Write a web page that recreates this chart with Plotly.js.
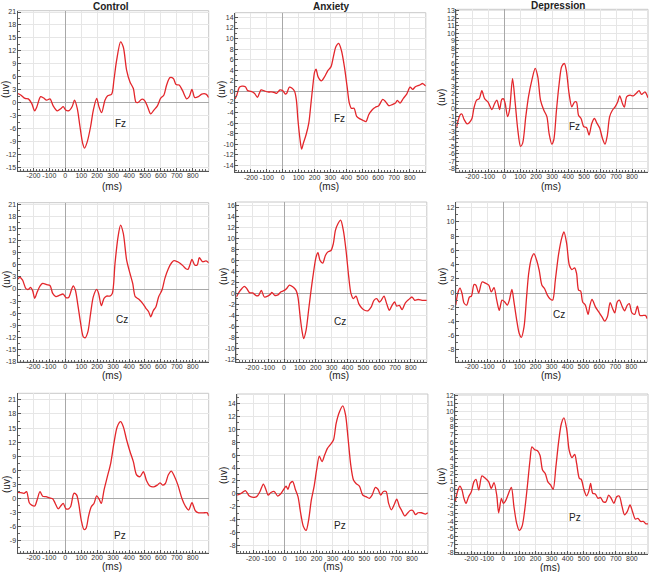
<!DOCTYPE html>
<html><head><meta charset="utf-8">
<script src="https://cdn.plot.ly/plotly-3.0.1.min.js"></script>
<style>html,body{margin:0;padding:0;background:#fff;}#chart{width:649px;height:572px;}</style>
</head><body><div id="chart"></div>
<script>
// ---- Data (time in ms, amplitude in uV) ----
const groups = ['Control', 'Anxiety', 'Depression'];
const electrodes = ['Fz', 'Cz', 'Pz'];
const xTickVals = [-200,-100,0,100,200,300,400,500,600,700,800];
const xTickText = ['-200','-100','0','100','200','300','400','500','600','700','800'];

const controlFzT = [-300,-280,-253,-232,-211,-192,-180,-155,-138,-117,-96,-75,-50,-29,-13,2,23,44,58,75,92,109,121,138,159,176,197,211,228,249,266,291,305,322,347,364,385,406,427,444,458,479,496,515,536,556,577,598,619,636,657,678,695,715,736,762,778,795,812,835,856,883,900];
const controlFzV = [2.15,1.8,1.0,0.9,-0.15,-1.9,-1.1,1.4,1.15,0.6,0.9,-0.8,-1.9,-1.4,-0.9,-1.7,-1.85,-0.8,0.6,-1.3,-5.5,-9.4,-10.5,-9,-5.5,-1.7,1.0,-0.9,-2.3,0.6,1.6,2.0,5.2,9.8,14.1,12.9,7.5,4.8,3.3,0.1,0.1,0.8,0.6,-0.8,-2.6,-1.7,-0.8,1.0,1.8,4.1,5.8,5.6,4.2,4.1,2.8,0.9,1.4,3.1,1.2,1.4,2.0,2.0,1.2];

const anxietyFzT = [-300,-289,-272,-256,-235,-220,-199,-178,-159,-147,-136,-115,-94,-73,-52,-38,-17,0,17,25,42,59,75,86,96,109,119,130,147,164,178,189,201,210,222,243,262,283,304,319,335,352,369,388,405,419,432,449,465,486,507,524,541,562,583,604,629,646,667,688,709,721,738,759,780,801,818,834,860,881,900];
const anxietyFzV = [-1.4,-0.7,0.8,1.0,0.9,0.15,0.0,-0.35,-1.1,-0.35,0.3,0.1,-0.1,-0.1,-0.2,-0.35,0.3,0.15,-0.5,-0.35,0.8,0.6,0,-1.6,-5.4,-9.1,-10.9,-9.8,-8.2,-6.0,-2.2,0.9,3.7,4.2,2.8,2.0,2.7,3.9,4.7,6.6,8.5,9.1,7.8,4.7,0.9,-2.2,-3.2,-3.2,-4.7,-5.2,-5.5,-5.7,-4.4,-3.5,-3.0,-2.7,-1.5,-1.9,-2.7,-2.5,-2.2,-1.7,-2.2,-1.3,-0.5,0.8,0.4,0.9,1.2,1.5,1.0];

const depressionFzT = [-300,-290,-277,-265,-252,-233,-219,-202,-190,-173,-156,-140,-123,-102,-77,-60,-46,-29,-15,-4,6,21,33,52,69,85,102,115,135,152,173,194,210,227,248,267,281,298,310,327,344,360,377,390,406,423,440,452,465,481,498,515,531,548,565,581,598,615,631,644,660,677,694,710,723,740,752,767,788,808,829,844,860,881,900];
const depressionFzV = [-2.6,-1.7,-0.85,-0.7,-1.4,-2.0,-1.85,-1.3,0.05,1.15,1.35,2.4,1.35,0.9,-0.1,0.7,1.15,-0.1,1.25,1.3,0.7,-1.05,-0.2,4.0,0.7,-2.8,-5.0,-4.6,-1.05,1.6,3.8,5.35,4.25,1.15,-0.2,-1.05,-3.3,-4.7,-4.15,-0.2,3.35,5.6,6.0,4.9,2.0,0.25,0.9,0.9,-0.85,-1.3,-2.4,-2.5,-3.5,-1.95,-1.3,-1.95,-2.6,-3.95,-4.7,-3.7,-1.05,-0.2,0.25,0.9,1.7,0.7,0.2,1.6,1.8,1.7,2.1,2.4,1.9,2.25,1.45];

const controlCzT = [-300,-285,-268,-247,-232,-218,-205,-192,-176,-159,-142,-117,-96,-79,-59,-38,-13,4,21,38,50,63,79,96,113,126,142,159,176,197,209,226,243,259,280,295,312,331,347,364,385,406,423,439,460,485,506,523,536,552,569,586,607,625,646,667,682,703,720,741,757,770,782,795,812,828,841,862,883,900];
const controlCzV = [2.4,2.9,2.2,0.1,-0.1,0.4,-0.4,-2.3,-0.7,0.75,1.4,1.1,0.9,-1.1,-1.9,-1.6,-1.25,-2.15,-2.1,-0.25,0.8,-0.25,-4.0,-8.5,-11.9,-12.1,-10.6,-6.05,-1.9,-0.1,-1.1,-4.15,-2.3,-1.75,-1.75,-1.1,6.4,13.0,15.9,13.85,7.2,3.9,1.4,-1.9,-2.5,-3.55,-4.8,-5.65,-6.9,-5.4,-4.4,-1.9,-0.25,2.65,5.0,6.55,7.05,6.8,6.4,5.7,5.05,4.9,6.0,7.4,6.0,6.0,7.8,6.8,7.0,6.55];

const anxietyCzT = [-300,-282,-265,-250,-235,-218,-197,-176,-160,-143,-124,-103,-86,-76,-59,-38,-19,2,17,34,55,76,88,101,113,124,139,155,168,185,202,214,227,244,261,275,296,311,324,340,357,374,391,408,422,437,454,471,487,508,529,550,567,584,601,613,630,647,664,681,697,710,727,744,765,786,807,824,845,870,900];
const anxietyCzV = [-0.65,0.3,0.9,1.3,0.9,0.15,0.1,-0.4,-0.35,0.55,-0.65,-0.5,-0.15,0.2,-0.35,-0.25,0.3,0.55,0.9,1.5,1.2,0.55,-0.65,-4.0,-6.7,-8.2,-6.7,-3.05,0.0,3.6,6.6,7.4,6.0,5.5,6.9,7.5,7.8,9.05,11.45,12.65,13.3,11.45,7.8,3.0,0.0,-0.95,-0.5,-1.85,-2.55,-3.05,-3.15,-2.45,-1.25,-0.95,-1.55,-1.25,-0.5,-1.85,-3.05,-2.15,-1.55,-2.3,-2.15,-2.95,-1.7,-1.1,-0.65,-1.25,-1.1,-1.25,-1.25];

const depressionCzT = [-300,-285,-273,-260,-248,-231,-214,-202,-185,-173,-156,-135,-114,-93,-77,-60,-43,-27,-10,7,23,36,52,65,82,98,111,128,144,157,174,190,207,223,240,257,274,290,307,324,345,366,378,395,412,428,445,457,470,482,495,512,529,541,554,575,596,616,633,650,667,683,696,712,725,742,758,775,787,804,821,838,854,875,888,900];
const depressionCzV = [-1.7,0.15,0.7,-0.1,-1.4,-1.7,-0.55,-0.45,1.2,1.1,0,1.55,1.4,1.1,0.15,0.75,-1.0,-2.45,-1.0,-1.25,-1.7,-1.0,0.5,-1.25,-3.8,-5.7,-6.25,-4.75,-0.55,2.75,4.85,5.55,4.6,3.2,1.1,0.6,-0.3,-0.8,-1.0,1.8,5.55,7.9,8.6,6.95,3.9,3.3,3.55,2.75,0.4,0.3,-1.25,-1.7,-3.0,-1.7,-0.9,-1.95,-2.65,-3.35,-3.95,-3.35,-1.35,-2.2,-2.8,-1.25,-1.0,-1.85,-2.5,-1.7,-1.5,-2.8,-3.0,-1.85,-3.15,-3.15,-3.15,-3.6];

const controlPzT = [-300,-280,-259,-243,-226,-211,-192,-176,-159,-142,-121,-100,-79,-63,-44,-29,-13,2,17,33,54,71,84,100,117,130,146,163,180,197,213,226,243,264,285,305,326,347,364,385,406,427,448,469,490,510,531,556,577,594,611,628,646,665,686,707,732,753,774,795,816,837,866,891,900];
const controlPzV = [1.3,1.25,1.1,1.45,-0.9,-1.4,-1.6,-0.2,1.45,0.5,0.4,0.15,-0.05,-1.05,-2.2,-1.6,-1.05,-2.1,-2.25,-1.75,1.1,0.75,-1.05,-4.6,-6.6,-6.35,-3.75,-1.75,-1.05,0.55,-0.2,-1.05,1.8,4.65,7.5,11.75,15.3,16.35,15.3,12.45,10.0,7.85,5.0,4.65,5.7,3.8,2.65,2.5,2.85,3.35,2.85,3.2,5.0,5.85,4.65,2.85,0.0,-1.6,-2.45,-0.9,-2.6,-3.05,-3.05,-3.05,-3.75];

const anxietyPzT = [-300,-275,-248,-223,-198,-177,-156,-135,-118,-105,-87,-66,-45,-24,-3,8,20,33,50,66,83,100,117,134,150,167,184,200,217,234,251,268,285,306,323,344,365,382,398,415,432,448,469,490,511,532,549,570,586,603,620,637,653,670,687,704,721,733,754,771,788,805,822,838,859,885,900];
const anxietyPzV = [-0.2,0.05,0.5,-0.35,-0.55,-0.45,0.35,1.5,0.6,-0.2,0.2,0.35,-0.35,0.05,0.85,1.2,0.7,1.6,1.9,0.7,-0.45,-3.05,-5.1,-5.7,-4.05,-0.95,1.1,3.7,5.85,5.0,6.05,7.05,7.6,8.35,10.95,12.75,13.65,12.25,8.6,4.45,2.15,1.6,1.2,-0.2,-0.45,-0.7,-0.2,1.0,0.7,-0.2,0.35,0.35,-1.5,-2.5,-1.75,-0.85,-2.0,-2.5,-3.45,-3.05,-2.6,-2.6,-3.25,-2.95,-2.95,-3.15,-2.95];

const depressionPzT = [-300,-282,-270,-257,-245,-232,-216,-199,-183,-170,-153,-133,-112,-91,-75,-58,-41,-29,-12,0,17,33,50,66,83,99,116,133,149,166,178,195,211,228,244,261,277,294,310,327,344,361,377,394,410,427,444,456,473,485,502,518,531,543,556,572,589,605,622,638,655,671,688,705,721,738,754,771,788,804,821,837,854,871,887,900];
const depressionPzV = [-1.55,-0.05,0.45,-0.05,-1.1,-1.75,-0.9,-0.25,1.0,1.3,-0.05,1.75,1.45,1.0,0.15,0.9,-0.7,-2.95,-1.1,-1.75,-1.3,-0.45,0.3,-2.15,-4.3,-5.2,-4.7,-2.6,0.35,3.75,5.45,5.1,5.0,4.4,2.5,2.05,1.0,0.6,0.05,2.9,6.1,8.4,9.15,7.75,5.0,4.1,4.5,3.35,1.45,1.3,-0.05,-0.8,-0.25,0.8,-0.45,-0.55,-1.1,-1.0,-1.55,-1.55,-0.7,-1.1,-1.75,-0.9,-0.8,-2.1,-3.2,-2.8,-1.95,-2.8,-3.75,-3.65,-4.05,-4.05,-4.35,-4.35];

// ---- Layout geometry (pixels) ----
const W = 649, H = 572;
const panels = [
  {t: controlFzT,    v: controlFzV,    box: [17.5, 208.7, 10.7, 171.0],  yr: [-15.8, 21.3], dt: 3, lab: [348, -4.75], ms: [112, 186], uv: [6, 90]},
  {t: anxietyFzT,    v: anxietyFzV,    box: [235.0, 425.8, 12.7, 172.3], yr: [-15.3, 14.9], dt: 2, lab: [356, -5.06], ms: [329, 187], uv: [222, 90]},
  {t: depressionFzT, v: depressionFzV, box: [456.3, 648.0, 9.3, 172.0],  yr: [-8.4, 13.2],  dt: 1, lab: [440, -2.4],  ms: [551, 186], uv: [441, 98]},
  {t: controlCzT,    v: controlCzV,    box: [17.5, 208.7, 202.7, 361.7], yr: [-18.1, 21.5], dt: 3, lab: [354, -7.7],  ms: [112, 376], uv: [6, 280]},
  {t: anxietyCzT,    v: anxietyCzV,    box: [236.4, 426.8, 202.0, 362.3],yr: [-12.5, 16.6], dt: 2, lab: [353, -5.05], ms: [339, 375], uv: [223, 277]},
  {t: depressionCzT, v: depressionCzV, box: [455.7, 647.3, 202.0, 362.0],yr: [-9.7, 12.8],  dt: 2, lab: [349, -3.0],  ms: [551, 375], uv: [442, 277]},
  {t: controlPzT,    v: controlPzV,    box: [17.5, 208.7, 393.3, 553.0], yr: [-11.6, 22.4], dt: 3, lab: [343, -7.8],  ms: [112, 566], uv: [6, 485]},
  {t: anxietyPzT,    v: anxietyPzV,    box: [237.1, 427.9, 394.0, 553.3],yr: [-9.25, 15.5], dt: 2, lab: [347, -5.0],  ms: [333, 566], uv: [223, 476]},
  {t: depressionPzT, v: depressionPzV, box: [455.1, 648.0, 394.0, 554.0],yr: [-8.2, 12.2],  dt: 1, lab: [443, -3.56], ms: [550, 567], uv: [441, 477]}
];
const titlePos = [[111, 6], [331, 6], [558, 5]];

const px = p => p / W;
const py = p => 1 - p / H;
const FONT = 'Liberation Sans, Arial, sans-serif';

const traces = [];
const layout = {
  width: W, height: H,
  margin: {l: 0, r: 0, t: 0, b: 0},
  paper_bgcolor: '#ffffff', plot_bgcolor: '#ffffff',
  showlegend: false,
  font: {family: FONT, size: 7, color: '#333'},
  annotations: [], shapes: []
};

function note(x, y, text, extra) {
  return Object.assign({x: px(x), y: py(y), xref: 'paper', yref: 'paper', text: text,
    showarrow: false, xanchor: 'center', yanchor: 'middle',
    font: {size: 10, color: '#222', family: FONT}}, extra || {});
}

panels.forEach((p, i) => {
  const n = i === 0 ? '' : String(i + 1);
  const row = Math.floor(i / 3);
  traces.push({
    x: p.t, y: p.v, type: 'scatter', mode: 'lines',
    line: {color: '#e3262b', width: 1.3, shape: 'spline', smoothing: 0.8},
    xaxis: 'x' + n, yaxis: 'y' + n, hoverinfo: 'skip'
  });
  const [x0, x1, y0, y1] = p.box;
  layout['xaxis' + n] = {
    domain: [px(x0), px(x1)], anchor: 'y' + n, range: [-300, 900],
    tickvals: xTickVals, ticktext: xTickText, tickangle: 0,
    ticklabelstandoff: -2,
    showgrid: true, gridcolor: '#e6e6e6', gridwidth: 1,
    zeroline: true, zerolinecolor: '#a8a8a8', zerolinewidth: 1,
    showline: true, linecolor: '#555', linewidth: 1,
    ticks: 'inside', ticklen: 3, tickcolor: '#555',
    minor: {dtick: 20, tick0: 0, ticks: 'inside', ticklen: 2, tickcolor: '#666', showgrid: false},
    tickfont: {size: 7, color: '#333', family: FONT},
    fixedrange: true
  };
  const ticks = [];
  for (let v = Math.ceil(p.yr[0] / p.dt) * p.dt; v <= p.yr[1] + 1e-9; v += p.dt) ticks.push(v);
  layout['yaxis' + n] = {
    domain: [py(y1), py(y0)], anchor: 'x' + n, range: p.yr,
    tickvals: ticks, ticktext: ticks.map(String), tickangle: 0,
    ticklabelstandoff: -1,
    showgrid: true, gridcolor: '#e6e6e6', gridwidth: 1,
    zeroline: true, zerolinecolor: '#a8a8a8', zerolinewidth: 1,
    showline: true, linecolor: '#555', linewidth: 1,
    ticks: 'inside', ticklen: 3, tickcolor: '#555',
    minor: {dtick: p.dt / 2, ticks: 'inside', ticklen: 2, tickcolor: '#666', showgrid: false},
    tickfont: {size: 7, color: '#333', family: FONT},
    fixedrange: true
  };
  layout.shapes.push({type: 'rect', xref: 'x' + n + ' domain', yref: 'y' + n + ' domain',
    x0: 0, x1: 1, y0: 0, y1: 1, line: {color: '#c8c8c8', width: 1}, layer: 'below'});
  layout.annotations.push({x: p.lab[0], y: p.lab[1], xref: 'x' + n, yref: 'y' + n,
    text: electrodes[row], showarrow: false, xanchor: 'center', yanchor: 'middle',
    font: {size: 10, color: '#222', family: FONT}});
  layout.annotations.push(note(p.ms[0], p.ms[1], '(ms)'));
  layout.annotations.push(note(p.uv[0], p.uv[1], '(uv)', {textangle: -90}));
});

groups.forEach((g, c) => {
  layout.annotations.push(note(titlePos[c][0], titlePos[c][1], '<b>' + g + '</b>'));
});

Plotly.newPlot('chart', traces, layout, {displayModeBar: false, staticPlot: true});
</script>
</body></html>
